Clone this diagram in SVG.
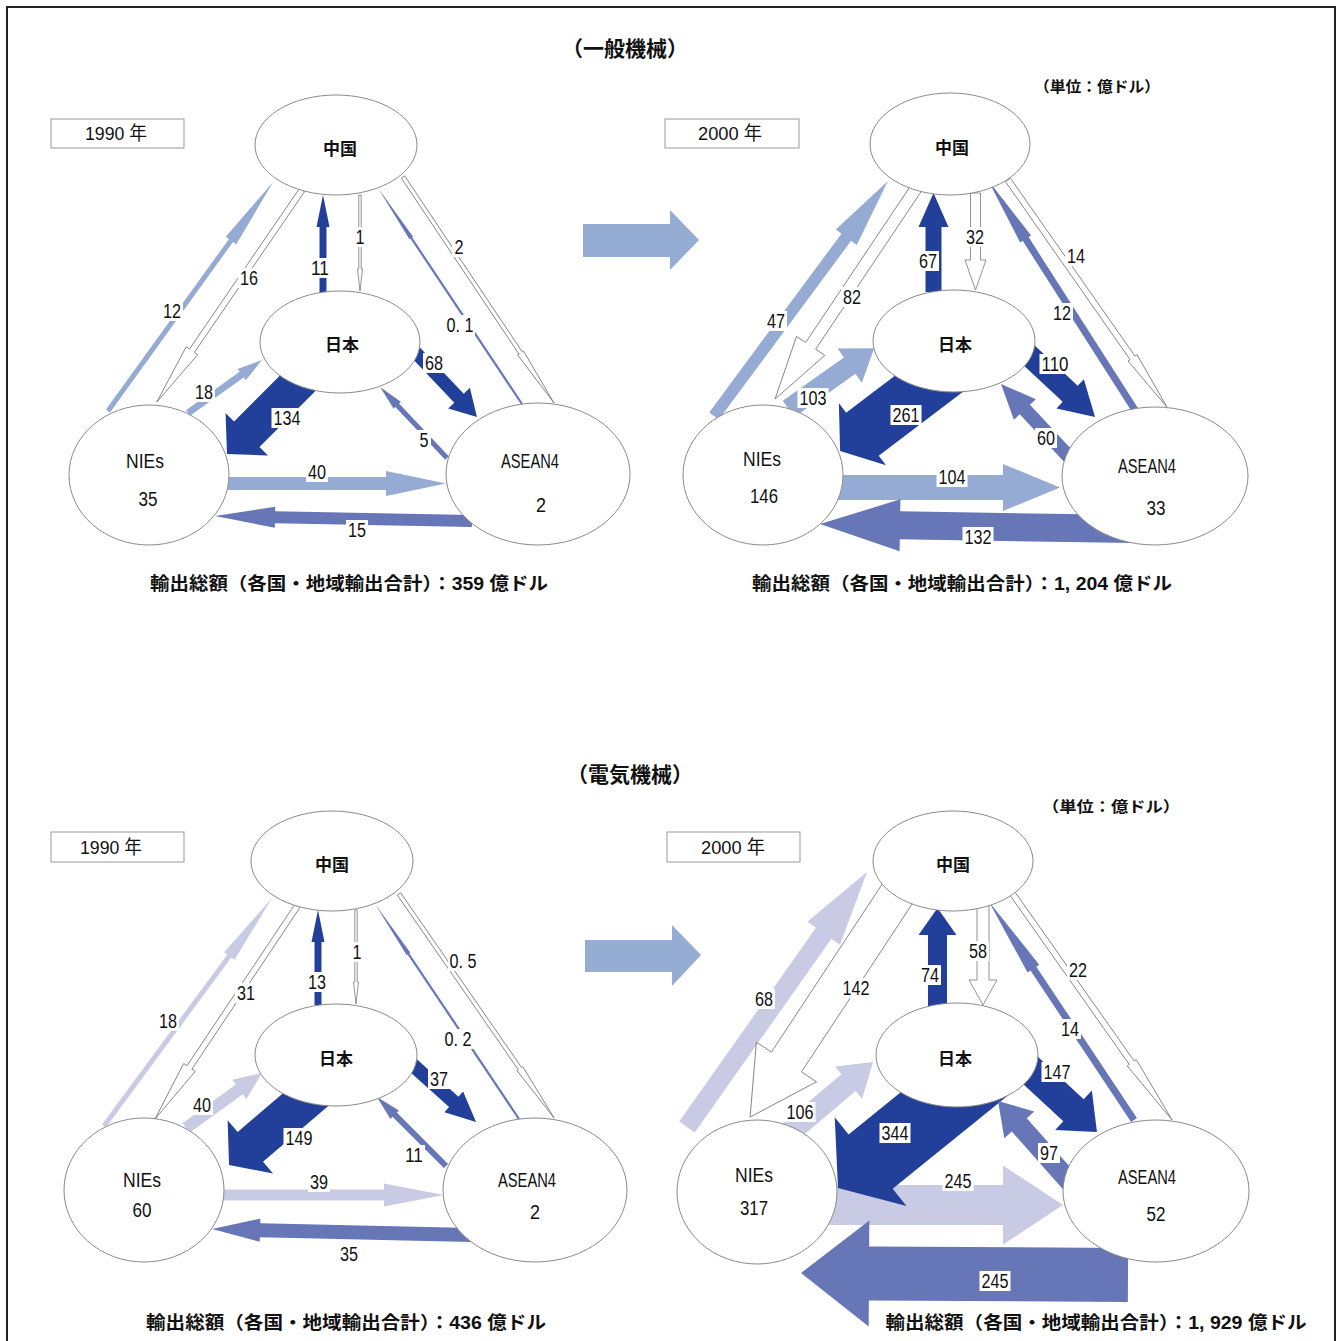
<svg xmlns="http://www.w3.org/2000/svg" width="1341" height="1341" viewBox="0 0 1341 1341">
<style>
.dk{fill:#22409a}
.lb{fill:#95abd3}
.lv{fill:#c9cae3}
.md{fill:#6676b7}
.wh{fill:#fff;stroke:#777;stroke-width:0.8}
.nd{fill:#fff;stroke:#8a8a8a;stroke-width:1}
.bx{fill:#fff;stroke:#999;stroke-width:1}
text{font-family:"Liberation Sans","Noto Sans CJK JP",sans-serif;font-size:20px;fill:#111;text-anchor:middle;dominant-baseline:central}
.jp{font-family:"Noto Sans CJK JP",sans-serif;font-size:17px;font-weight:bold}
.ttl{font-family:"Noto Sans CJK JP",sans-serif;font-size:21px;font-weight:bold}
.cap{font-family:"Liberation Sans","Noto Sans CJK JP",sans-serif;font-size:18px;font-weight:bold}
.unit{font-family:"Noto Sans CJK JP",sans-serif;font-size:15px;font-weight:bold}
.yr{font-size:19px}
.lbl rect{fill:#fff}
</style>
<rect x="7" y="7" width="1328" height="1350" fill="#fff" stroke="#222" stroke-width="2"/>

<text class="ttl" x="625" y="47">（一般機械）</text>
<text class="ttl" x="630" y="773">（電気機械）</text>
<text class="unit" x="1097" y="85" textLength="126" lengthAdjust="spacingAndGlyphs">（単位：億ドル）</text>
<text class="unit" x="1111" y="805" textLength="138" lengthAdjust="spacingAndGlyphs">（単位：億ドル）</text>

<g id="year-boxes">
<rect class="bx" x="51" y="119" width="133" height="29"/><text class="yr" x="116" y="133" textLength="62" lengthAdjust="spacingAndGlyphs">1990 年</text>
<rect class="bx" x="665" y="119" width="134" height="29"/><text class="yr" x="730" y="133" textLength="64" lengthAdjust="spacingAndGlyphs">2000 年</text>
<rect class="bx" x="51" y="832" width="133" height="30"/><text class="yr" x="111" y="847" textLength="62" lengthAdjust="spacingAndGlyphs">1990 年</text>
<rect class="bx" x="667" y="832" width="133" height="30"/><text class="yr" x="733" y="847" textLength="64" lengthAdjust="spacingAndGlyphs">2000 年</text>
</g>

<g id="connectors">
<polygon fill="#95acd3" points="583,224 670,224 670,210 699,240 670,270 670,257 583,257"/>
<polygon fill="#95acd3" points="585,940 672,940 672,925 701,955 672,986 672,972 585,972"/>

<!-- TL -->
<polygon class="lb" transform="translate(108,411) rotate(-54.2)" points="0,-2.5 210.3,-2.5 210.3,-6.5 282.3,0 210.3,6.5 210.3,2.5 0,2.5"/>
<polygon class="wh" transform="translate(302,190) rotate(124.4)" points="0,-3 194.8,-3 194.8,-7 256.8,0 194.8,7 194.8,3 0,3"/>
<polygon class="dk" transform="translate(323,293) rotate(-90)" points="0,-3.5 66,-3.5 66,-6.5 98,0 66,6.5 66,3.5 0,3.5"/>
<polygon class="wh" transform="translate(360,195) rotate(90)" points="0,-1.2 74,-1.2 74,-2.5 96,0 74,2.5 74,1.2 0,1.2"/>
<polygon class="md" transform="translate(522,404) rotate(-123.7)" points="0,-1.1 199.6,-1.1 199.6,-2.2 259.6,0 199.6,2.2 199.6,1.1 0,1.1"/>
<polygon class="wh" transform="translate(403,177) rotate(56.25)" points="0,-2 211.8,-2 211.8,-3.5 271.8,0 211.8,3.5 211.8,2 0,2"/>
<polygon class="lb" transform="translate(188,413) rotate(-35.6)" points="0,-3.5 66,-3.5 66,-7 91,0 66,7 66,3.5 0,3.5"/>
<polygon class="dk" transform="translate(318.9,362.1) rotate(135)" points="0,-18 102,-18 102,-30 130,0 102,30 102,18 0,18"/>
<polygon class="dk" transform="translate(408,344.6) rotate(46.4)" points="0,-6.5 74,-6.5 74,-15 100,0 74,15 74,6.5 0,6.5"/>
<polygon class="md" transform="translate(447,458) rotate(-133.3)" points="0,-2.5 72.6,-2.5 72.6,-5 97.6,0 72.6,5 72.6,2.5 0,2.5"/>
<polygon class="lb" transform="translate(225,483.5)" points="0,-6.5 161,-6.5 161,-12.5 221,0 161,12.5 161,6.5 0,6.5"/>
<polygon class="md" transform="translate(472,521) rotate(-178.9)" points="0,-6 197,-6 197,-10.5 257,0 197,10.5 197,6 0,6"/>

<!-- TR -->
<polygon class="lb" transform="translate(714,416) rotate(-53.5)" points="0,-6 222.4,-6 222.4,-13 292.4,0 222.4,13 222.4,6 0,6"/>
<polygon class="lb" transform="translate(788.5,409) rotate(-35.3)" points="0,-10 75,-10 75,-21 105,0 75,21 75,10 0,10"/>
<polygon class="wh" transform="translate(917,187) rotate(123.8)" points="0,-6 191.2,-6 191.2,-17 255.2,0 191.2,17 191.2,6 0,6"/>
<polygon class="dk" transform="translate(933.5,292) rotate(-90)" points="0,-8 65,-8 65,-15 99,0 65,15 65,8 0,8"/>
<polygon class="wh" transform="translate(975.5,193) rotate(90)" points="0,-5 67,-5 67,-10.5 97,0 67,10.5 67,5 0,5"/>
<polygon class="md" transform="translate(1135,410) rotate(-122.6)" points="0,-3.5 203,-3.5 203,-6.5 273,0 203,6.5 203,3.5 0,3.5"/>
<polygon class="wh" transform="translate(1008,180) rotate(55)" points="0,-3 217.1,-3 217.1,-5.5 277.1,0 217.1,5.5 217.1,3 0,3"/>
<polygon class="dk" transform="translate(959.6,360.4) rotate(142.8)" points="0,-27 122,-27 122,-39 150,0 122,39 122,27 0,27"/>
<polygon class="dk" transform="translate(1014.7,341.9) rotate(43.1)" points="0,-11 76,-11 76,-20 110,0 76,20 76,11 0,11"/>
<polygon class="md" transform="translate(1070,458) rotate(-133)" points="0,-7 66.2,-7 66.2,-15 101.2,0 66.2,15 66.2,7 0,7"/>
<polygon class="lb" transform="translate(835,487.5)" points="0,-12.5 168,-12.5 168,-23.5 225,0 168,23.5 168,12.5 0,12.5"/>
<polygon class="md" transform="translate(1135,529) rotate(-179.1)" points="0,-14 235,-14 235,-26 315,0 235,26 235,14 0,14"/>

<!-- BL -->
<polygon class="lv" transform="translate(104,1126) rotate(-53.6)" points="0,-2.5 211.2,-2.5 211.2,-6.5 283.2,0 211.2,6.5 211.2,2.5 0,2.5"/>
<polygon class="wh" transform="translate(298,905) rotate(123.75)" points="0,-3 195.4,-3 195.4,-7 257.4,0 195.4,7 195.4,3 0,3"/>
<polygon class="dk" transform="translate(318,1005) rotate(-90)" points="0,-3.5 63,-3.5 63,-6.5 95,0 63,6.5 63,3.5 0,3.5"/>
<polygon class="wh" transform="translate(356,910) rotate(90)" points="0,-1.2 72,-1.2 72,-2.5 94,0 72,2.5 72,1.2 0,1.2"/>
<polygon class="md" transform="translate(519,1119) rotate(-123.8)" points="0,-1.1 198.8,-1.1 198.8,-2.2 258.8,0 198.8,2.2 198.8,1.1 0,1.1"/>
<polygon class="wh" transform="translate(399,894) rotate(55.3)" points="0,-2 212.4,-2 212.4,-3.5 272.4,0 212.4,3.5 212.4,2 0,2"/>
<polygon class="lv" transform="translate(186,1128) rotate(-35.9)" points="0,-6 65.8,-6 65.8,-12 93.8,0 65.8,12 65.8,6 0,6"/>
<polygon class="dk" transform="translate(327.9,1080.6) rotate(139.5)" points="0,-19.5 102,-19.5 102,-35 130,0 102,35 102,19.5 0,19.5"/>
<polygon class="dk" transform="translate(405,1058) rotate(42)" points="0,-7 65.6,-7 65.6,-14 95.6,0 65.6,14 65.6,7 0,7"/>
<polygon class="md" transform="translate(446,1166) rotate(-135)" points="0,-3 72.6,-3 72.6,-6 97.6,0 72.6,6 72.6,3 0,3"/>
<polygon class="lv" transform="translate(222,1195)" points="0,-5.5 162,-5.5 162,-11.5 222,0 162,11.5 162,5.5 0,5.5"/>
<polygon class="md" transform="translate(472,1235) rotate(-178.7)" points="0,-7 212,-7 212,-11.5 260,0 212,11.5 212,7 0,7"/>

<!-- BR -->
<polygon class="lv" transform="translate(687,1127) rotate(-54.8)" points="0,-9.5 237.1,-9.5 237.1,-20 312.1,0 237.1,20 237.1,9.5 0,9.5"/>
<polygon class="wh" transform="translate(900.5,889) rotate(123.4)" points="0,-18 207.2,-18 207.2,-36 273.2,0 207.2,36 207.2,18 0,18"/>
<polygon class="lv" transform="translate(790,1132) rotate(-40.1)" points="0,-11 76.6,-11 76.6,-21 108.6,0 76.6,21 76.6,11 0,11"/>
<polygon class="dk" transform="translate(937.5,1006) rotate(-90)" points="0,-9.5 71,-9.5 71,-19 98,0 71,19 71,9.5 0,9.5"/>
<polygon class="wh" transform="translate(983,905) rotate(90)" points="0,-6 75,-6 75,-14 100,0 75,14 75,6 0,6"/>
<polygon class="md" transform="translate(1134,1120) rotate(-123.6)" points="0,-3.5 181.8,-3.5 181.8,-7 261.8,0 181.8,7 181.8,3.5 0,3.5"/>
<polygon class="wh" transform="translate(1012,893) rotate(54.8)" points="0,-3 207.7,-3 207.7,-5.5 277.7,0 207.7,5.5 207.7,3 0,3"/>
<polygon class="lv" transform="translate(825,1205)" points="0,-20 178,-20 178,-39.5 238,0 178,39.5 178,20 0,20"/>
<polygon class="dk" transform="translate(993.4,1062.2) rotate(141)" points="0,-35 158,-35 158,-57 200,0 158,57 158,35 0,35"/>
<polygon class="dk" transform="translate(1001.6,1043.7) rotate(42.8)" points="0,-15 98,-15 98,-27 130,0 98,27 98,15 0,15"/>
<polygon class="md" transform="translate(1070,1182) rotate(-131.6)" points="0,-10 76.4,-10 76.4,-20 108.4,0 76.4,20 76.4,10 0,10"/>
<polygon class="md" transform="translate(1128,1275) rotate(-179.65)" points="0,-27 259,-27 259,-53 327,0 259,53 259,27 0,27"/>
</g>

<!-- nodes TL -->
<g id="tl-china"><ellipse class="nd" cx="336" cy="145" rx="81" ry="50"/><text class="jp" x="340" y="147">中国</text></g>
<g id="tl-japan"><ellipse class="nd" cx="340" cy="342" rx="80" ry="51"/><text class="jp" x="342" y="343">日本</text></g>
<g id="tl-nies"><ellipse class="nd" cx="149" cy="475" rx="80" ry="70"/><text x="145" y="461" textLength="38" lengthAdjust="spacingAndGlyphs">NIEs</text><text x="148" y="499" textLength="19" lengthAdjust="spacingAndGlyphs">35</text></g>
<g id="tl-asean"><ellipse class="nd" cx="538" cy="474" rx="92" ry="71"/><text x="530" y="461" textLength="58" lengthAdjust="spacingAndGlyphs">ASEAN4</text><text x="541" y="505" textLength="10" lengthAdjust="spacingAndGlyphs">2</text></g>
<!-- nodes TR -->
<g id="tr-china"><ellipse class="nd" cx="950" cy="144" rx="80" ry="51"/><text class="jp" x="952" y="146">中国</text></g>
<g id="tr-japan"><ellipse class="nd" cx="954" cy="341" rx="81" ry="51"/><text class="jp" x="955" y="343">日本</text></g>
<g id="tr-nies"><ellipse class="nd" cx="763" cy="475" rx="80" ry="70"/><text x="762" y="459" textLength="38" lengthAdjust="spacingAndGlyphs">NIEs</text><text x="764" y="496" textLength="28" lengthAdjust="spacingAndGlyphs">146</text></g>
<g id="tr-asean"><ellipse class="nd" cx="1155" cy="476" rx="93" ry="69"/><text x="1147" y="466" textLength="58" lengthAdjust="spacingAndGlyphs">ASEAN4</text><text x="1156" y="508" textLength="19" lengthAdjust="spacingAndGlyphs">33</text></g>
<!-- nodes BL -->
<g id="bl-china"><ellipse class="nd" cx="332" cy="861" rx="81" ry="50"/><text class="jp" x="332" y="863">中国</text></g>
<g id="bl-japan"><ellipse class="nd" cx="336" cy="1055" rx="81" ry="51"/><text class="jp" x="336" y="1057">日本</text></g>
<g id="bl-nies"><ellipse class="nd" cx="144" cy="1190" rx="80" ry="72"/><text x="142" y="1180" textLength="38" lengthAdjust="spacingAndGlyphs">NIEs</text><text x="142" y="1210" textLength="19" lengthAdjust="spacingAndGlyphs">60</text></g>
<g id="bl-asean"><ellipse class="nd" cx="535" cy="1190" rx="92" ry="72"/><text x="527" y="1180" textLength="58" lengthAdjust="spacingAndGlyphs">ASEAN4</text><text x="535" y="1212" textLength="10" lengthAdjust="spacingAndGlyphs">2</text></g>
<!-- nodes BR -->
<g id="br-china"><ellipse class="nd" cx="953" cy="861" rx="80" ry="50"/><text class="jp" x="953" y="863">中国</text></g>
<g id="br-japan"><ellipse class="nd" cx="957" cy="1055" rx="81" ry="52"/><text class="jp" x="955" y="1057">日本</text></g>
<g id="br-nies"><ellipse class="nd" cx="757" cy="1192" rx="80" ry="72"/><text x="754" y="1175" textLength="38" lengthAdjust="spacingAndGlyphs">NIEs</text><text x="754" y="1208" textLength="28" lengthAdjust="spacingAndGlyphs">317</text></g>
<g id="br-asean"><ellipse class="nd" cx="1156" cy="1191" rx="93" ry="71"/><text x="1147" y="1177" textLength="58" lengthAdjust="spacingAndGlyphs">ASEAN4</text><text x="1156" y="1214" textLength="19" lengthAdjust="spacingAndGlyphs">52</text></g>

<g id="connector-labels" class="lbl">
<rect x="161" y="301" width="22" height="20"/><text x="172" y="311" textLength="18" lengthAdjust="spacingAndGlyphs">12</text>
<rect x="238" y="268" width="22" height="20"/><text x="249" y="278" textLength="18" lengthAdjust="spacingAndGlyphs">16</text>
<rect x="309" y="258" width="22" height="20"/><text x="320" y="268" textLength="18" lengthAdjust="spacingAndGlyphs">11</text>
<rect x="353" y="227" width="14" height="20"/><text x="360" y="237" textLength="9" lengthAdjust="spacingAndGlyphs">1</text>
<rect x="445" y="315" width="30" height="20"/><text x="460" y="325" textLength="27" lengthAdjust="spacingAndGlyphs">0. 1</text>
<rect x="452" y="237" width="14" height="20"/><text x="459" y="247" textLength="9" lengthAdjust="spacingAndGlyphs">2</text>
<rect x="193" y="382" width="22" height="20"/><text x="204" y="392" textLength="18" lengthAdjust="spacingAndGlyphs">18</text>
<rect x="271.5" y="408" width="31" height="20"/><text x="287" y="418" textLength="27" lengthAdjust="spacingAndGlyphs">134</text>
<rect x="423" y="353" width="22" height="20"/><text x="434" y="363" textLength="18" lengthAdjust="spacingAndGlyphs">68</text>
<rect x="417" y="430" width="14" height="20"/><text x="424" y="440" textLength="9" lengthAdjust="spacingAndGlyphs">5</text>
<rect x="306" y="462" width="22" height="20"/><text x="317" y="472" textLength="18" lengthAdjust="spacingAndGlyphs">40</text>
<rect x="346" y="520" width="22" height="20"/><text x="357" y="530" textLength="18" lengthAdjust="spacingAndGlyphs">15</text>

<rect x="765" y="311" width="22" height="20"/><text x="776" y="321" textLength="18" lengthAdjust="spacingAndGlyphs">47</text>
<rect x="841" y="287" width="22" height="20"/><text x="852" y="297" textLength="18" lengthAdjust="spacingAndGlyphs">82</text>
<rect x="917" y="251" width="22" height="20"/><text x="928" y="261" textLength="18" lengthAdjust="spacingAndGlyphs">67</text>
<rect x="964" y="227" width="22" height="20"/><text x="975" y="237" textLength="18" lengthAdjust="spacingAndGlyphs">32</text>
<rect x="1051" y="303" width="22" height="20"/><text x="1062" y="313" textLength="18" lengthAdjust="spacingAndGlyphs">12</text>
<rect x="1065" y="246" width="22" height="20"/><text x="1076" y="256" textLength="18" lengthAdjust="spacingAndGlyphs">14</text>
<rect x="797.5" y="388" width="31" height="20"/><text x="813" y="398" textLength="27" lengthAdjust="spacingAndGlyphs">103</text>
<rect x="890.5" y="405" width="31" height="20"/><text x="906" y="415" textLength="27" lengthAdjust="spacingAndGlyphs">261</text>
<rect x="1039.5" y="354" width="31" height="20"/><text x="1055" y="364" textLength="27" lengthAdjust="spacingAndGlyphs">110</text>
<rect x="1035" y="428" width="22" height="20"/><text x="1046" y="438" textLength="18" lengthAdjust="spacingAndGlyphs">60</text>
<rect x="936.5" y="467" width="31" height="20"/><text x="952" y="477" textLength="27" lengthAdjust="spacingAndGlyphs">104</text>
<rect x="962.5" y="527" width="31" height="20"/><text x="978" y="537" textLength="27" lengthAdjust="spacingAndGlyphs">132</text>

<rect x="157" y="1011" width="22" height="20"/><text x="168" y="1021" textLength="18" lengthAdjust="spacingAndGlyphs">18</text>
<rect x="235" y="983" width="22" height="20"/><text x="246" y="993" textLength="18" lengthAdjust="spacingAndGlyphs">31</text>
<rect x="306" y="972" width="22" height="20"/><text x="317" y="982" textLength="18" lengthAdjust="spacingAndGlyphs">13</text>
<rect x="350" y="942" width="14" height="20"/><text x="357" y="952" textLength="9" lengthAdjust="spacingAndGlyphs">1</text>
<rect x="448" y="951" width="30" height="20"/><text x="463" y="961" textLength="27" lengthAdjust="spacingAndGlyphs">0. 5</text>
<rect x="443" y="1029" width="30" height="20"/><text x="458" y="1039" textLength="27" lengthAdjust="spacingAndGlyphs">0. 2</text>
<rect x="191" y="1095" width="22" height="20"/><text x="202" y="1105" textLength="18" lengthAdjust="spacingAndGlyphs">40</text>
<rect x="283.5" y="1128" width="31" height="20"/><text x="299" y="1138" textLength="27" lengthAdjust="spacingAndGlyphs">149</text>
<rect x="428" y="1069" width="22" height="20"/><text x="439" y="1079" textLength="18" lengthAdjust="spacingAndGlyphs">37</text>
<rect x="403" y="1145" width="22" height="20"/><text x="414" y="1155" textLength="18" lengthAdjust="spacingAndGlyphs">11</text>
<rect x="308" y="1172" width="22" height="20"/><text x="319" y="1182" textLength="18" lengthAdjust="spacingAndGlyphs">39</text>
<rect x="338" y="1244" width="22" height="20"/><text x="349" y="1254" textLength="18" lengthAdjust="spacingAndGlyphs">35</text>

<rect x="753" y="989" width="22" height="20"/><text x="764" y="999" textLength="18" lengthAdjust="spacingAndGlyphs">68</text>
<rect x="840.5" y="978" width="31" height="20"/><text x="856" y="988" textLength="27" lengthAdjust="spacingAndGlyphs">142</text>
<rect x="919" y="965" width="22" height="20"/><text x="930" y="975" textLength="18" lengthAdjust="spacingAndGlyphs">74</text>
<rect x="967" y="941" width="22" height="20"/><text x="978" y="951" textLength="18" lengthAdjust="spacingAndGlyphs">58</text>
<rect x="1067" y="960" width="22" height="20"/><text x="1078" y="970" textLength="18" lengthAdjust="spacingAndGlyphs">22</text>
<rect x="1059" y="1019" width="22" height="20"/><text x="1070" y="1029" textLength="18" lengthAdjust="spacingAndGlyphs">14</text>
<rect x="784.5" y="1102" width="31" height="20"/><text x="800" y="1112" textLength="27" lengthAdjust="spacingAndGlyphs">106</text>
<rect x="879.5" y="1123" width="31" height="20"/><text x="895" y="1133" textLength="27" lengthAdjust="spacingAndGlyphs">344</text>
<rect x="1041.5" y="1062" width="31" height="20"/><text x="1057" y="1072" textLength="27" lengthAdjust="spacingAndGlyphs">147</text>
<rect x="1038" y="1143" width="22" height="20"/><text x="1049" y="1153" textLength="18" lengthAdjust="spacingAndGlyphs">97</text>
<rect x="942.5" y="1171" width="31" height="20"/><text x="958" y="1181" textLength="27" lengthAdjust="spacingAndGlyphs">245</text>
<rect x="979.5" y="1271" width="31" height="20"/><text x="995" y="1281" textLength="27" lengthAdjust="spacingAndGlyphs">245</text>
</g>

<g id="captions">
<text class="cap" x="349" y="584" textLength="398" lengthAdjust="spacingAndGlyphs">輸出総額（各国・地域輸出合計）：359 億ドル</text>
<text class="cap" x="962" y="584" textLength="420" lengthAdjust="spacingAndGlyphs">輸出総額（各国・地域輸出合計）：1, 204 億ドル</text>
<text class="cap" x="346" y="1323" textLength="400" lengthAdjust="spacingAndGlyphs">輸出総額（各国・地域輸出合計）：436 億ドル</text>
<text class="cap" x="1096" y="1323" textLength="421" lengthAdjust="spacingAndGlyphs">輸出総額（各国・地域輸出合計）：1, 929 億ドル</text>
</g>
</svg>
